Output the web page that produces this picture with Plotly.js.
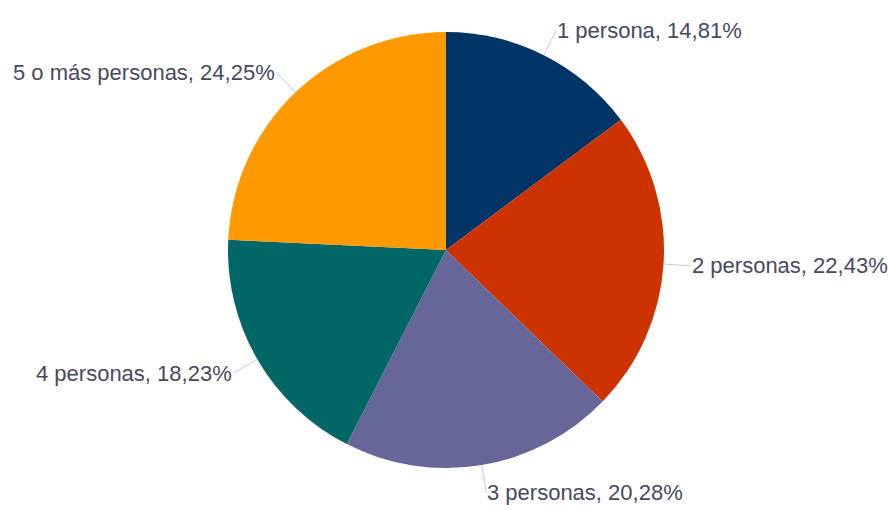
<!DOCTYPE html>
<html>
<head>
<meta charset="utf-8">
<script src="https://cdn.plot.ly/plotly-3.0.1.min.js"></script>
<style>html,body{margin:0;padding:0;background:#fff;}#chart{width:890px;height:510px;}</style>
</head>
<body>
<div id="chart"></div>
<script>
const categories = ["1 persona", "2 personas", "3 personas", "4 personas", "5 o más personas"];
const values = [14.81, 22.43, 20.28, 18.23, 24.25];
const colors = ["#003366", "#cc3300", "#666699", "#006666", "#ff9900"];

const W = 890, H = 510;
const margin = {l: 2, r: 0, t: 32, b: 42};
const plotW = W - margin.l - margin.r;
const plotH = H - margin.t - margin.b;
const R = Math.min(plotW, plotH) / 2;
const labelDist = 28;

const trace = {
  type: "pie",
  labels: categories,
  values: values,
  sort: false,
  direction: "clockwise",
  rotation: 0,
  marker: {colors: colors, line: {width: 0}},
  textinfo: "none",
  hoverinfo: "none",
  showlegend: false
};

const total = values.reduce((a, b) => a + b, 0);
let cum = 0;
const annotations = values.map((v, i) => {
  const mid = (cum + v / 2) / total * 2 * Math.PI;
  cum += v;
  const s = Math.sin(mid), c = Math.cos(mid);
  const pct = (v / total * 100).toFixed(2).replace(".", ",");
  return {
    xref: "paper", yref: "paper",
    x: 0.5 + R * s / plotW,
    y: 0.5 + R * c / plotH,
    ax: labelDist * s,
    ay: -labelDist * c,
    text: categories[i] + ", " + pct + "%",
    showarrow: true,
    arrowhead: 0,
    arrowwidth: 1,
    arrowcolor: "#c6cbe0",
    standoff: 0,
    startstandoff: 0,
    xanchor: s >= 0 ? "left" : "right",
    yanchor: "middle",
    borderpad: 0,
    font: {family: "Liberation Sans, Arial, sans-serif", size: 22, color: "#474a5e"}
  };
});

const layout = {
  width: W, height: H,
  margin: margin,
  paper_bgcolor: "#ffffff",
  showlegend: false,
  annotations: annotations
};

Plotly.newPlot("chart", [trace], layout, {displayModeBar: false, staticPlot: true});
</script>
</body>
</html>
